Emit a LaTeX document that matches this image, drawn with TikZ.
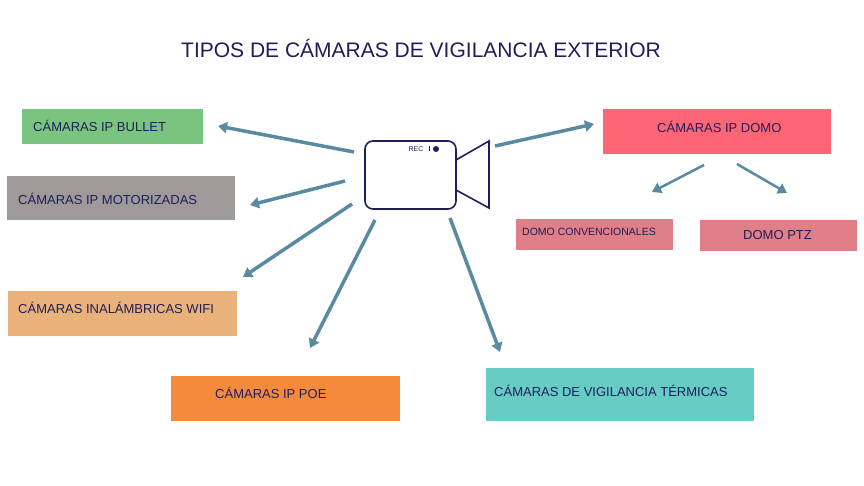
\documentclass[tikz,border=0pt]{standalone}
\usepackage{fontspec}
\setmainfont{Liberation Sans}
\usetikzlibrary{arrows.meta}
\definecolor{ink}{HTML}{1E1E5A}
\definecolor{arrowc}{HTML}{5A8AA0}
\begin{document}
\begin{tikzpicture}[x=1pt,y=-1pt]
	\tikzstyle{box}=[anchor=north west,inner sep=0pt,text=ink,font=\fontsize{13}{15}\selectfont,align=left]
	\tikzstyle{link}=[draw=arrowc,line width=3.5pt,-{Triangle[length=9pt,width=11pt]}]

	\useasboundingbox[fill=white] (0,0) rectangle (864,486);

	\node[text=ink,font=\fontsize{21}{24}\selectfont] (title) at (421,48) {TIPOS DE CÁMARAS DE VIGILANCIA EXTERIOR};

	% category boxes
	\fill[fill={rgb,255:red,123;green,196;blue,127}] (22,109) rectangle (203,144);
	\node[box] (bullet) at (33,120) {CÁMARAS IP BULLET};
	\fill[fill={rgb,255:red,158;green,154;blue,154}] (7,176) rectangle (235,220);
	\node[box] (motor) at (18,193) {CÁMARAS IP MOTORIZADAS};
	\fill[fill={rgb,255:red,232;green,178;blue,122}] (8,291) rectangle (237,336);
	\node[box] (wifi) at (18,302) {CÁMARAS INALÁMBRICAS WIFI};
	\fill[fill={rgb,255:red,245;green,138;blue,61}] (171,376) rectangle (400,421);
	\node[box] (poe) at (215,387) {CÁMARAS IP POE};
	\fill[fill={rgb,255:red,102;green,204;blue,196}] (486,368) rectangle (754,421);
	\node[box] (termica) at (494,385) {CÁMARAS DE VIGILANCIA TÉRMICAS};
	\fill[fill={rgb,255:red,255;green,102;blue,117}] (603,109) rectangle (831,154);
	\node[box] (domo) at (657,121) {CÁMARAS IP DOMO};
	\fill[fill={rgb,255:red,224;green,127;blue,136}] (516,219) rectangle (673,250);
	\node[box,font=\fontsize{10.5}{12}\selectfont] (conv) at (522,228) {DOMO CONVENCIONALES};
	\fill[fill={rgb,255:red,224;green,127;blue,136}] (700,220) rectangle (857,251);
	\node[box] (ptz) at (743,230) {DOMO PTZ};

	% camera icon
	\draw[ink,line width=1.6pt,rounded corners=8pt] (365,141) rectangle (456,209);
	\draw[ink,line width=1.6pt,line join=miter] (456,160) -- (489,141) -- (489,208) -- (456,190);
	\node[text=ink,font=\fontsize{7}{8}\selectfont,inner sep=0pt] (rec) at (416,149) {REC};
	\fill[ink] (428.5,146.5) rectangle (430,151);
	\fill[ink] (436,149) circle (3pt);

	% connectors
	\coordinate (c1) at (354,152); \coordinate (e1) at (218,126);
	\coordinate (c2) at (345,181); \coordinate (e2) at (250,205);
	\coordinate (c3) at (352,204); \coordinate (e3) at (243,277);
	\coordinate (c4) at (375,220); \coordinate (e4) at (310,348);
	\coordinate (c5) at (450,218); \coordinate (e5) at (500,352);
	\coordinate (c6) at (495,146); \coordinate (e6) at (594,124);
	\draw[link] (c1) -- (e1);
	\draw[link] (c2) -- (e2);
	\draw[link] (c3) -- (e3);
	\draw[link] (c4) -- (e4);
	\draw[link] (c5) -- (e5);
	\draw[link] (c6) -- (e6);
	\coordinate (d1) at (704,165); \coordinate (f1) at (652,192);
	\coordinate (d2) at (737,164); \coordinate (f2) at (787,193);
	\draw[link,line width=2.5pt] (d1) -- (f1);
	\draw[link,line width=2.5pt] (d2) -- (f2);
\end{tikzpicture}
\end{document}
